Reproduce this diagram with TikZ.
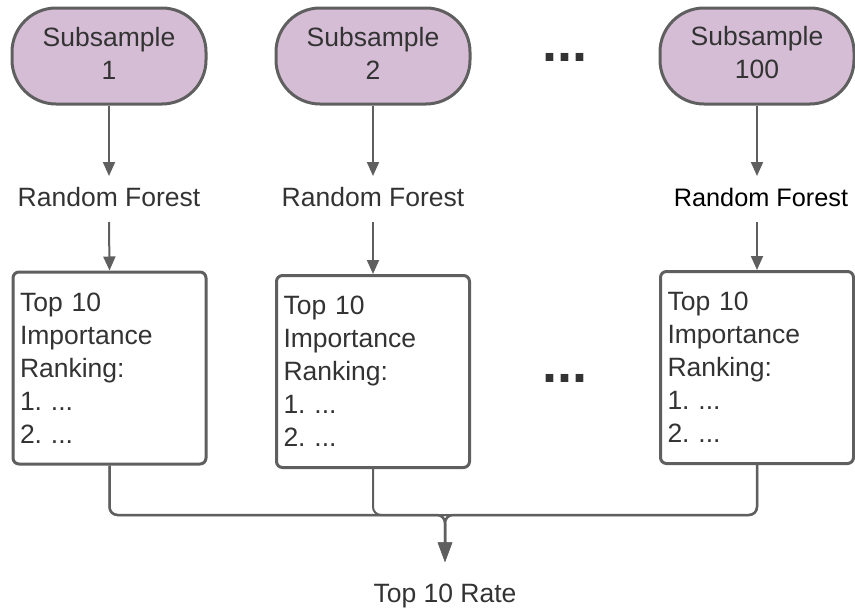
\documentclass[tikz,border=0pt]{standalone}
\usepackage{fontspec}
\setmainfont{Liberation Sans}
\usetikzlibrary{arrows.meta}
\definecolor{lc}{HTML}{5F5F5F}
\definecolor{pillfill}{HTML}{D5BDD5}
\definecolor{tc}{HTML}{333333}
\frenchspacing
\begin{document}
\begin{tikzpicture}[x=1pt,y=-1pt,
  every node/.style={font=\fontsize{26.5}{33}\selectfont\frenchspacing, text=tc},
  pill/.style={draw=lc, line width=3pt, fill=pillfill, rounded corners=44pt,
    minimum width=194pt, minimum height=96pt, align=center, inner sep=0pt},
  pilltext/.style={align=center, inner sep=0pt},
  rankbox/.style={draw=lc, line width=3pt, rounded corners=6pt, fill=white,
    minimum width=193pt, minimum height=192pt, text width=179pt, align=left, inner xsep=7pt, inner ysep=0pt},
  rflabel/.style={text height=19pt, text depth=0pt, inner xsep=0pt, inner ysep=11pt},
  conn/.style={draw=lc, line width=2pt, -{Triangle[width=12pt,length=14pt]}},
  bigconn/.style={draw=lc, line width=2.5pt, rounded corners=8pt, -{Triangle[width=14pt,length=20pt]}},
  joinline/.style={draw=lc, line width=2pt, rounded corners=8pt},
  dotstext/.style={font=\fontsize{54}{54}\selectfont\bfseries, text=tc, inner sep=0pt}
]
\useasboundingbox (0,0) rectangle (855,613);

\node[pill] (p1) at (109,56) {};
\node[pill] (p2) at (373,56) {};
\node[pill] (p3) at (757,56) {};
\node[pilltext] (t1) at (109,53) {Subsample\\1};
\node[pilltext] (t2) at (373,53) {Subsample\\2};
\node[pilltext] (t3) at (757,53) {Subsample\\100};
\node[dotstext] (d1) at (565,57) {...};

\node[rflabel] (rf1) at (109,197) {Random Forest};
\node[rflabel] (rf2) at (373,197) {Random Forest};
\node[rflabel, text=black, font=\fontsize{25.3}{33}\selectfont] (rf3) at (761,197) {Random Forest};

\node[rankbox] (b1) at (109.5,368) {Top 10\\Importance\\Ranking:\\1. ...\\2. ...};
\node[rankbox] (b2) at (373,371.5) {Top 10\\Importance\\Ranking:\\1. ...\\2. ...};
\node[rankbox] (b3) at (757,367.5) {Top 10\\Importance\\Ranking:\\1. ...\\2. ...};
\node[dotstext] (d2) at (565,378) {...};

\node[rflabel, inner ysep=21pt] (out) at (445,593) {Top 10 Rate};

\draw[conn] (p1.south) -- (109,176);
\draw[conn] (p2.south) -- (373,176);
\draw[conn] (p3.south) -- (757,176);
\draw[conn] (109,222) -- (b1.north);
\draw[conn] (373,222) -- (b2.north);
\draw[conn] (757,222) -- (b3.north);

\coordinate (m) at (445,515);
\draw[joinline] (b2.south) |- (m);
\draw[joinline] (b1.south) |- (m);
\draw[joinline] (b3.south) |- (m);
\draw[bigconn] (b1.south) |- (m) -- (out.north);
\draw[bigconn] (b3.south) |- (m) -- (out.north);
\end{tikzpicture}
\end{document}
